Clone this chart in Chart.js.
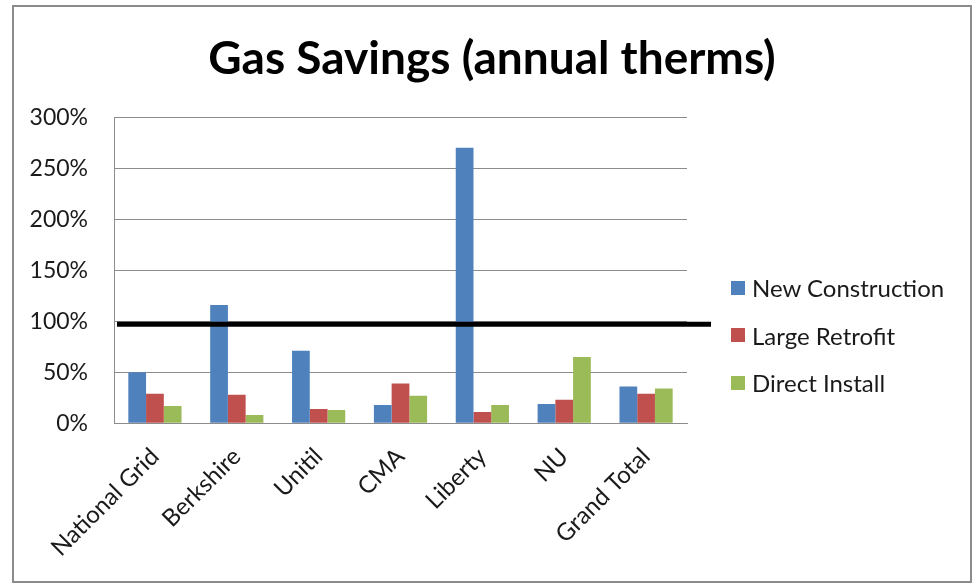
<!DOCTYPE html>
<html>
<head>
<meta charset="utf-8">
<script src="https://cdn.jsdelivr.net/npm/chart.js@4.4.1/dist/chart.umd.min.js"></script>
<style>
  html, body { margin: 0; padding: 0; background: #fff; }
  #frame {
    position: absolute; left: 12px; top: 5px;
    width: 960px; height: 578px;
    box-sizing: border-box;
    border: 2px solid #8c8c8c;
  }
  #legend {
    position: absolute; left: 731px; top: 264px;
    font-family: Lato, sans-serif; font-size: 24px; color: #1a1a1a;
  }
  #legend .item { display: flex; align-items: center; height: 47.5px; }
  #legend .swatch { width: 14px; height: 14px; margin-right: 7px; }
</style>
</head>
<body>
<div id="frame"><canvas id="gas-chart"></canvas></div>
<div id="legend"></div>
<script>
const categories = ['National Grid', 'Berkshire', 'Unitil', 'CMA', 'Liberty', 'NU', 'Grand Total'];
const newConstruction = [50, 116, 71, 18, 270, 19, 36];
const largeRetrofit = [29, 28, 14, 39, 11, 23, 29];
const directInstall = [17, 8, 13, 27, 18, 65, 34];
const yTicks = [0, 50, 100, 150, 200, 250, 300];
const targetLine = 97;

// thick black reference line, runs a bit past the plot on the right
const targetLinePlugin = {
    id: 'targetLine',
    afterDatasetsDraw(chart) {
        const { ctx, chartArea, scales } = chart;
        const y = scales.y.getPixelForValue(targetLine);
        ctx.save();
        ctx.strokeStyle = '#000';
        ctx.lineWidth = 5;
        ctx.beginPath();
        ctx.moveTo(chartArea.left + 3, y);
        ctx.lineTo(chartArea.right + 24, y);
        ctx.stroke();
        ctx.restore();
    }
};

const ctx = document.getElementById('gas-chart').getContext('2d');
const gasChart = new Chart(ctx, {
    type: 'bar',
    data: {
        labels: categories,
        datasets: [
            { label: 'New Construction', data: newConstruction, backgroundColor: '#4F81BD' },
            { label: 'Large Retrofit', data: largeRetrofit, backgroundColor: '#C0504D' },
            { label: 'Direct Install', data: directInstall, backgroundColor: '#9BBB59' }
        ]
    },
    options: {
        responsive: true,
        maintainAspectRatio: false,
        animation: false,
        layout: {
            padding: { left: 0, right: 0, top: 0, bottom: 0 }
        },
        datasets: {
            bar: { categoryPercentage: 0.65, barPercentage: 1.0 }
        },
        scales: {
            x: {
                grid: { display: false, drawTicks: false },
                border: { color: '#8c8c8c', width: 1 },
                ticks: {
                    color: '#1a1a1a',
                    font: { family: 'Lato', size: 24 },
                    minRotation: 45,
                    maxRotation: 45,
                    padding: 19
                }
            },
            y: {
                min: 0,
                max: 300,
                afterBuildTicks: (axis) => {
                    axis.ticks = yTicks.map(v => ({ value: v }));
                },
                afterFit: (axis) => { axis.width = 100; },
                grid: { color: '#8c8c8c', lineWidth: 1, drawTicks: false },
                border: { color: '#8c8c8c', width: 1 },
                ticks: {
                    color: '#1a1a1a',
                    font: { family: 'Lato', size: 23 },
                    padding: 26,
                    callback: (v) => v + '%'
                }
            },
            // hidden spacer that keeps room on the right for the legend
            legendRoom: {
                display: false,
                position: 'right',
                afterFit: (axis) => { axis.width = 283; }
            }
        },
        plugins: {
            title: {
                display: true,
                text: 'Gas Savings (annual therms)',
                color: '#000',
                font: { family: 'Lato', size: 46, weight: 'bold' },
                padding: { top: 25, bottom: 30 }
            },
            legend: { display: false },
            tooltip: { enabled: false }
        }
    },
    plugins: [targetLinePlugin]
});

// html legend built from the chart's own legend items
const legendDiv = document.getElementById('legend');
Chart.defaults.plugins.legend.labels.generateLabels(gasChart).forEach(item => {
    const row = document.createElement('div');
    row.className = 'item';
    const swatch = document.createElement('span');
    swatch.className = 'swatch';
    swatch.style.background = item.fillStyle;
    const text = document.createElement('span');
    text.textContent = item.text;
    row.appendChild(swatch);
    row.appendChild(text);
    legendDiv.appendChild(row);
});
</script>
</body>
</html>
